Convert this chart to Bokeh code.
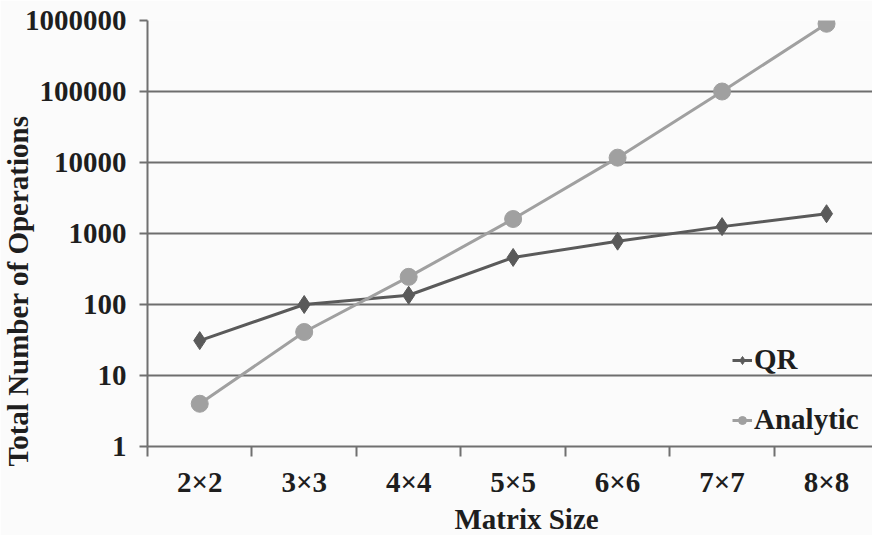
from bokeh.plotting import figure
from bokeh.models import (Range1d, LinearAxis, FixedTicker, Title,
                          Legend, LegendItem, LogAxis, ColumnDataSource)
from bokeh.embed import file_html
from bokeh.resources import INLINE

sizes = ["2×2", "3×3", "4×4", "5×5", "6×6", "7×7", "8×8"]
qr_ops = [31, 100, 135, 460, 780, 1250, 1900]
analytic_ops = [4, 41, 245, 1600, 11700, 100000, 900000]
y_ticks = [1, 10, 100, 1000, 10000, 100000, 1000000]
x_title = "Matrix Size"
y_title = "Total Number of Operations"

FONT = "Liberation Serif"
FS = "29px"
TXT = "#1e1e1e"
DARK = "#5a5a5a"
LIGHT = "#a0a0a0"
AXC = "#707070"

n = len(sizes)
centers = [i + 0.5 for i in range(n)]
src = ColumnDataSource(dict(x=centers, qr=qr_ops, an=analytic_ops))

p = figure(width=872, height=535, x_range=Range1d(0, n - 0.06), y_range=Range1d(1, 1000000),
           y_axis_type="log", output_backend="svg", toolbar_location=None,
           x_axis_location=None, y_axis_location=None,
           min_border_top=20, min_border_right=0, min_border_left=147,
           min_border_bottom=89,
           background_fill_color="#fbfbfb", border_fill_color="#fbfbfb",
           outline_line_color=None)

# y axis
yax = LogAxis(ticker=FixedTicker(ticks=y_ticks))
yax.major_label_overrides = {t: str(t) for t in y_ticks}
yax.major_label_text_font = FONT
yax.major_label_text_font_style = "bold"
yax.major_label_text_font_size = FS
yax.major_label_text_color = TXT
yax.major_label_standoff = 13
yax.axis_line_color = AXC
yax.axis_line_width = 2
yax.major_tick_line_color = AXC
yax.major_tick_line_width = 2
yax.major_tick_out = 8
yax.major_tick_in = 0
yax.minor_tick_line_color = None
p.add_layout(yax, "left")

# x axis: labels at category centres, tick marks between categories
xax = LinearAxis(ticker=FixedTicker(ticks=centers, minor_ticks=list(range(n + 1))))
xax.major_label_overrides = {c: s for c, s in zip(centers, sizes)}
xax.axis_line_color = AXC
xax.axis_line_width = 2
xax.major_tick_line_color = None
xax.major_tick_out = 10
xax.major_tick_in = 0
xax.minor_tick_line_color = AXC
xax.minor_tick_line_width = 2
xax.minor_tick_out = 10
xax.minor_tick_in = 0
xax.major_label_text_font = FONT
xax.major_label_text_font_style = "bold"
xax.major_label_text_font_size = FS
xax.major_label_text_color = TXT
xax.major_label_standoff = 9
p.add_layout(xax, "below")

# axis titles as offset titles (the reference places them off-centre)
p.add_layout(Title(text=x_title, align="left", offset=307, standoff=0,
                   text_font=FONT, text_font_style="bold", text_font_size=FS,
                   text_color=TXT), "below")
p.add_layout(Title(text=y_title, align="left", offset=-20, standoff=-24,
                   text_font=FONT, text_font_style="bold", text_font_size=FS,
                   text_color=TXT), "left")

p.xgrid.grid_line_color = None
p.ygrid.grid_line_color = "#6e6e6e"
p.ygrid.grid_line_width = 2
p.ygrid.ticker = FixedTicker(ticks=y_ticks)

l1 = p.line("x", "qr", source=src, line_color=DARK, line_width=3)
m1 = p.scatter("x", "qr", source=src, marker="diamond", size=18,
               fill_color=DARK, line_color=DARK)
l2 = p.line("x", "an", source=src, line_color=LIGHT, line_width=3)
m2 = p.scatter("x", "an", source=src, marker="circle", size=17,
               fill_color=LIGHT, line_color=LIGHT)

legend = Legend(items=[LegendItem(label="QR", renderers=[l1, m1]),
                       LegendItem(label="Analytic", renderers=[l2, m2])],
                location=(585, 10), orientation="vertical",
                background_fill_alpha=0, border_line_color=None,
                label_text_font=FONT, label_text_font_style="bold",
                label_text_font_size=FS, label_text_color=TXT,
                glyph_width=20, spacing=27, label_standoff=2, padding=0, margin=0)
p.add_layout(legend)

open("out.html", "w").write(file_html(p, INLINE))
